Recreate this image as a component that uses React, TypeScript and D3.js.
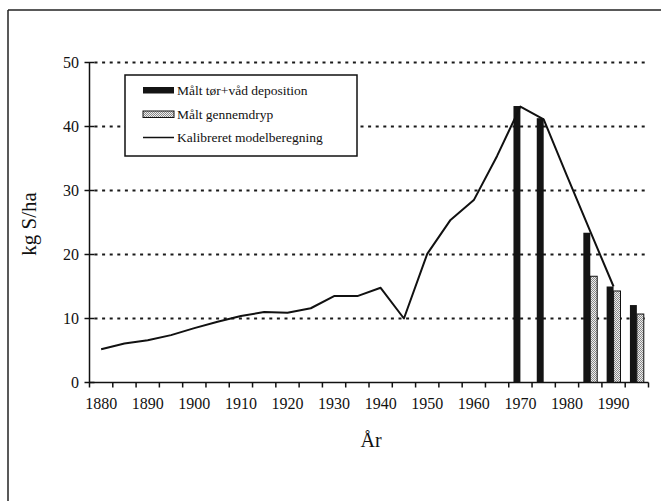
import React from "react";
import * as d3 from "d3";

const years: number[] = [1880, 1885, 1890, 1895, 1900, 1905, 1910, 1915, 1920, 1925, 1930, 1935, 1940, 1945, 1950, 1955, 1960, 1965, 1970, 1975, 1980, 1985, 1990, 1995];
const modelValues: (number | null)[] = [5.2, 6.1, 6.6, 7.4, 8.5, 9.5, 10.4, 11.0, 10.9, 11.6, 13.5, 13.5, 14.8, 10.0, 20.1, 25.4, 28.5, 35.4, 43.1, 41.1, 32.3, 23.6, 15.0, null];
const depositionYears: number[] = [1970, 1975, 1985, 1990, 1995];
const depositionValues: number[] = [43.2, 41.3, 23.4, 15.0, 12.1];
const throughfallYears: number[] = [1985, 1990, 1995];
const throughfallValues: number[] = [16.6, 14.3, 10.7];
const yTicks: number[] = [0, 10, 20, 30, 40, 50];
const xLabelYears: number[] = [1880, 1890, 1900, 1910, 1920, 1930, 1940, 1950, 1960, 1970, 1980, 1990];
const legendLabels: string[] = ["Målt tør+våd deposition", "Målt gennemdryp", "Kalibreret modelberegning"];

const FONT = "'Liberation Serif', 'Times New Roman', serif";

export default function App() {
  const left = 89.5, right = 648.5, top = 62.5, bottom = 382.5;
  const x = d3.scaleBand<string>().domain(years.map(String)).range([left, right]).paddingInner(0).paddingOuter(0);
  const sub = d3.scaleBand<string>().domain(["dep", "thr"]).range([0, x.bandwidth()]).paddingInner(0).paddingOuter(0.68);
  const y = d3.scaleLinear().domain([0, 50]).range([bottom, top]);

  const lineGen = d3.line<[number, number | null]>()
    .defined(d => d[1] != null)
    .x(d => (x(String(d[0])) as number) + x.bandwidth() / 2)
    .y(d => y(d[1] as number));
  const linePts: [number, number | null][] = years.map((yr, i) => [yr, modelValues[i]]);

  const tickXs = years.map(yr => x(String(yr)) as number).concat([right]);

  return (
    <svg width={661} height={501} style={{ position: "absolute", left: 0, top: 0, background: "#fff" }} fontFamily={FONT}>
      <defs>
        <pattern id="stip" width={2} height={2} patternUnits="userSpaceOnUse">
          <rect width={2} height={2} fill="#eeeeee" />
          <rect x={0} y={0} width={1} height={1} fill="#8a8a8a" />
          <rect x={1} y={1} width={1} height={1} fill="#8a8a8a" />
        </pattern>
      </defs>
      {/* frame */}
      <line x1={8} y1={10} x2={661} y2={10} stroke="#222" strokeWidth={1.5} />
      <line x1={8} y1={10} x2={8} y2={501} stroke="#222" strokeWidth={1.5} />

      {/* gridlines */}
      {yTicks.filter(t => t > 0).map(t => (
        <line key={"g" + t} x1={left + 5} x2={right - 2} y1={y(t)} y2={y(t)} stroke="#1a1a1a" strokeWidth={2} strokeDasharray="3,4.6" />
      ))}

      {/* bars */}
      {depositionYears.map((yr, i) => (
        <rect key={"d" + yr} x={(x(String(yr)) as number) + (sub("dep") as number)} width={sub.bandwidth()}
          y={y(depositionValues[i])} height={y(0) - y(depositionValues[i])} fill="#141414" />
      ))}
      {throughfallYears.map((yr, i) => (
        <rect key={"t" + yr} x={(x(String(yr)) as number) + (sub("thr") as number)} width={sub.bandwidth()}
          y={y(throughfallValues[i])} height={y(0) - y(throughfallValues[i])} fill="url(#stip)" stroke="#111" strokeWidth={1} />
      ))}

      {/* model line */}
      <path d={lineGen(linePts) || ""} fill="none" stroke="#111" strokeWidth={2} strokeLinejoin="round" />

      {/* axes */}
      <line x1={left} x2={left} y1={top} y2={bottom} stroke="#111" strokeWidth={1.5} />
      <line x1={left} x2={right} y1={bottom} y2={bottom} stroke="#111" strokeWidth={1.5} />
      {yTicks.map(t => (
        <g key={"y" + t}>
          <line x1={left - 5} x2={left + 5} y1={y(t)} y2={y(t)} stroke="#111" strokeWidth={1.5} />
          <text x={79} y={y(t)} dy="0.35em" textAnchor="end" fontSize={16} fill="#111">{t}</text>
        </g>
      ))}
      {tickXs.map((tx, i) => (
        <line key={"xt" + i} x1={tx} x2={tx} y1={bottom} y2={bottom + 5} stroke="#111" strokeWidth={1.5} />
      ))}
      {xLabelYears.map(yr => (
        <text key={"xl" + yr} x={(x(String(yr)) as number) + x.bandwidth() / 2} y={409} textAnchor="middle" fontSize={16} fill="#111">{yr}</text>
      ))}

      {/* axis titles */}
      <text x={371} y={447} textAnchor="middle" fontSize={20} fill="#111">År</text>
      <text transform="translate(36,224) rotate(-90)" textAnchor="middle" fontSize={21} fill="#111">kg S/ha</text>

      {/* legend */}
      <rect x={125} y={75} width={232} height={81} fill="#fff" stroke="#111" strokeWidth={1.5} />
      <rect x={143} y={87} width={31} height={6.5} fill="#141414" />
      <text x={177} y={95} fontSize={13.5} fill="#111">{legendLabels[0]}</text>
      <rect x={143} y={111} width={31} height={6.5} fill="url(#stip)" stroke="#111" strokeWidth={1} />
      <text x={177} y={119} fontSize={13.5} fill="#111">{legendLabels[1]}</text>
      <line x1={143} x2={174} y1={137.5} y2={137.5} stroke="#111" strokeWidth={1.5} />
      <text x={177} y={142} fontSize={13.5} fill="#111">{legendLabels[2]}</text>
    </svg>
  );
}
